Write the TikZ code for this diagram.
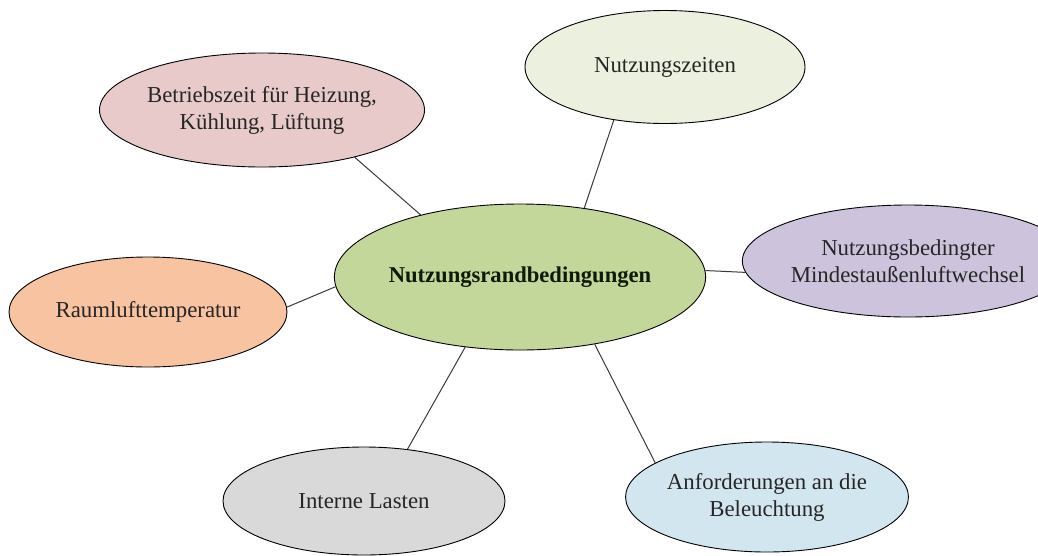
\documentclass[tikz,border=0pt]{standalone}
\usepackage{fontspec}
\setmainfont{Liberation Serif}
\usetikzlibrary{shapes.geometric}
\definecolor{cpink}{HTML}{E8CACA}
\definecolor{cbeige}{HTML}{EBF1DE}
\definecolor{cgreen}{HTML}{C4D79B}
\definecolor{clav}{HTML}{CDC3DC}
\definecolor{corange}{HTML}{F8C3A0}
\definecolor{cgray}{HTML}{D9D9D9}
\definecolor{cblue}{HTML}{D2E6F0}
\definecolor{ctext}{HTML}{262626}
\definecolor{chub}{HTML}{0F1A08}
\definecolor{cline}{HTML}{3A3A3A}
\begin{document}
\begin{tikzpicture}[x=1pt,y=-1pt,
  bubble/.style={ellipse, draw=black, line width=0.9pt, inner sep=0pt,
    text=ctext, align=center, font=\fontsize{22.8}{27}\selectfont},
  hub/.style={bubble, fill=cgreen, text=chub, font=\fontsize{22.6}{27}\selectfont\bfseries},
  link/.style={draw=cline, line width=1pt}]
\fill[white] (0,0) rectangle (1038,555);
\useasboundingbox (0,0) rectangle (1038,555);

\node[hub, minimum width=280pt, minimum height=146pt] (c) at (520,277) {Nutzungsrandbedingungen};

\node[bubble, fill=cpink, minimum width=280pt, minimum height=114pt] (bz) at (262,110) {Betriebszeit für Heizung,\\Kühlung, Lüftung};
\node[bubble, fill=cbeige, minimum width=280pt, minimum height=113pt] (nz) at (665,67) {Nutzungszeiten};
\node[bubble, fill=clav, minimum width=282pt, minimum height=112pt] (nb) at (908,261) {Nutzungsbedingter\\Mindestaußenluftwechsel};
\node[bubble, fill=corange, minimum width=278pt, minimum height=110pt] (rl) at (148,312) {Raumlufttemperatur};
\node[bubble, fill=cgray, minimum width=282pt, minimum height=108pt] (il) at (364,501) {Interne Lasten};
\node[bubble, fill=cblue, minimum width=280pt, minimum height=110pt] (ab) at (767,497) {Anforderungen an die\\Beleuchtung};

\draw[link] (bz.-27.6) -- (c.148.5);
\draw[link] (nz.-134) -- (c.47.3);
\draw[link] (c.2) -- (nb.184.5);
\draw[link] (rl.2.9) -- (c.183.3);
\draw[link] (il.50.4) -- (c.232.9);
\draw[link] (ab.163.4) -- (c.-42.9);
\end{tikzpicture}
\end{document}
